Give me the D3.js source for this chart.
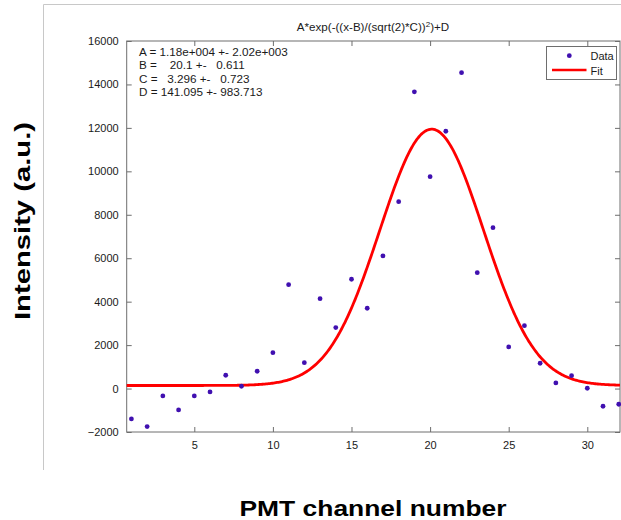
<!DOCTYPE html>
<html>
<head>
<meta charset="utf-8">
<script src="https://cdn.jsdelivr.net/npm/d3@7"></script>
<style>
  html, body { margin: 0; padding: 0; background: #fff; }
  svg { display: block; font-family: "Liberation Sans", Arial, Helvetica, sans-serif; }
</style>
</head>
<body>
<svg id="chart" width="621" height="520"></svg>
<script>
// PMT channel readings and the Gaussian fit parameters
const channels = d3.range(1, 33);
const intensity = [
  -1400, -1750, -340, -985, -340, -157, 612, 106, 796, 1653,
  4784, 1192, 4140, 2805, 5032, 3697, 6105, 8605, 13660, 9756,
  11846, 14544, 5336, 7408, 1915, 2896, 1165, 258, 594, 14,
  -815, -723
];
const fitParams = { A: 1.18e4, B: 20.1, C: 3.296, D: 141.095 };
const paramLines = [
  "A = 1.18e+004 +- 2.02e+003",
  "B =    20.1 +-   0.611",
  "C =   3.296 +-   0.723",
  "D = 141.095 +- 983.713"
];
const xTicks = [5, 10, 15, 20, 25, 30];
const yTicks = [-2000, 0, 2000, 4000, 6000, 8000, 10000, 12000, 14000, 16000];

const svg = d3.select("#chart");
const plotL = 126.7, plotR = 620, plotT = 41, plotB = 432;

const x = d3.scaleLinear().domain([0.7, 32.08]).range([plotL, plotR]);
const y = d3.scaleLinear().domain([-2000, 16000]).range([plotB, plotT]);

// outer panel frame
svg.append("path")
  .attr("d", `M43.5,470 L43.5,4.5 L621,4.5`)
  .attr("fill", "none").attr("stroke", "#c8c8c8").attr("stroke-width", 1);

// plot box
svg.append("rect")
  .attr("x", plotL).attr("y", plotT)
  .attr("width", plotR - plotL).attr("height", plotB - plotT)
  .attr("fill", "#fff").attr("stroke", "#6e6e6e").attr("stroke-width", 1);

const axisColor = "#6e6e6e";
function styleAxis(g) {
  g.select(".domain").remove();
  g.selectAll(".tick line").attr("stroke", axisColor);
  g.selectAll(".tick text").attr("fill", "#1a1a1a")
    .style("font-size", "11px");
}

// bottom and top x ticks (pointing inward)
svg.append("g").attr("transform", `translate(0,${plotB})`)
  .call(d3.axisBottom(x).tickValues(xTicks).tickSizeInner(-5).tickSizeOuter(0).tickPadding(9))
  .call(styleAxis);
svg.append("g").attr("transform", `translate(0,${plotT})`)
  .call(d3.axisTop(x).tickValues(xTicks).tickSizeInner(-5).tickSizeOuter(0).tickFormat(""))
  .call(styleAxis);

// left and right y ticks (pointing inward)
svg.append("g").attr("transform", `translate(${plotL},0)`)
  .call(d3.axisLeft(y).tickValues(yTicks).tickSizeInner(-5).tickSizeOuter(0).tickPadding(8).tickFormat(d3.format("d")))
  .call(styleAxis);
svg.append("g").attr("transform", `translate(${plotR},0)`)
  .call(d3.axisRight(y).tickValues(yTicks).tickSizeInner(-5).tickSizeOuter(0).tickFormat(""))
  .call(styleAxis);

// fitted Gaussian curve
const gauss = t => fitParams.A * Math.exp(-Math.pow((t - fitParams.B) / (Math.SQRT2 * fitParams.C), 2)) + fitParams.D;
const [x0, x1] = x.domain();
const xs = d3.range(0, 401).map(i => x0 + (x1 - x0) * i / 400);
svg.append("path")
  .datum(xs)
  .attr("d", d3.line().x(d => x(d)).y(d => y(gauss(d))))
  .attr("fill", "none").attr("stroke", "#ff0000").attr("stroke-width", 2.8);

// data points
svg.append("g").selectAll("circle")
  .data(channels.map((c, i) => [c, intensity[i]]))
  .join("circle")
  .attr("cx", d => x(d[0])).attr("cy", d => y(d[1]))
  .attr("r", 2.4).attr("fill", "#4010b0");

// title
const title = svg.append("text")
  .attr("x", 373).attr("y", 31).attr("text-anchor", "middle")
  .style("font-size", "11.6px").attr("fill", "#1a1a1a");
title.append("tspan").text("A*exp(-((x-B)/(sqrt(2)*C))");
title.append("tspan").attr("dy", -4).style("font-size", "8px").text("2");
title.append("tspan").attr("dy", 4).text(")+D");

// fit parameter annotation
svg.append("g").selectAll("text")
  .data(paramLines)
  .join("text")
  .attr("x", 139).attr("y", (d, i) => 56 + i * 13.3)
  .attr("xml:space", "preserve")
  .style("white-space", "pre")
  .style("font-size", "11.7px").attr("fill", "#1a1a1a")
  .text(d => d);

// legend
const lg = svg.append("g");
lg.append("rect").attr("x", 546.5).attr("y", 46.5).attr("width", 70).attr("height", 33)
  .attr("fill", "#fff").attr("stroke", "#6e6e6e");
lg.append("circle").attr("cx", 569.3).attr("cy", 55.7).attr("r", 2.4).attr("fill", "#4010b0");
lg.append("line").attr("x1", 552).attr("x2", 586.5).attr("y1", 70).attr("y2", 70)
  .attr("stroke", "#ff0000").attr("stroke-width", 2.6);
lg.append("text").attr("x", 590.5).attr("y", 59.5).style("font-size", "11px").attr("fill", "#1a1a1a").text("Data");
lg.append("text").attr("x", 590.5).attr("y", 74.5).style("font-size", "11px").attr("fill", "#1a1a1a").text("Fit");

// axis titles
svg.append("text")
  .attr("x", 373).attr("y", 515.5).attr("text-anchor", "middle")
  .attr("textLength", 267).attr("lengthAdjust", "spacingAndGlyphs")
  .style("font-size", "22px").style("font-weight", "bold").attr("fill", "#000")
  .text("PMT channel number");
svg.append("text")
  .attr("transform", "translate(30,221) rotate(-90)")
  .attr("text-anchor", "middle")
  .attr("textLength", 198).attr("lengthAdjust", "spacingAndGlyphs")
  .style("font-size", "22px").style("font-weight", "bold").attr("fill", "#000")
  .text("Intensity (a.u.)");
</script>
</body>
</html>
